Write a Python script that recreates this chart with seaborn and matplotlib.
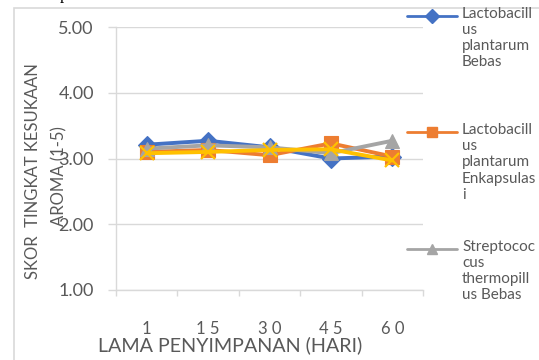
import matplotlib
matplotlib.use("Agg")
import matplotlib.pyplot as plt
from matplotlib.lines import Line2D
from matplotlib.patches import Rectangle
import seaborn as sns
import pandas as pd

# Storage time (days) and panel aroma scores (1-5 scale)
hari = ["1", "15", "30", "45", "60"]
hari_labels = ["1", "1 5", "3 0", "4 5", "6 0"]
lp_bebas = [3.21, 3.27, 3.17, 3.00, 3.03]
lp_enkapsulasi = [3.10, 3.13, 3.05, 3.23, 3.03]
st_bebas = [3.15, 3.20, 3.17, 3.08, 3.27]
st_enkapsulasi = [3.08, 3.10, 3.13, 3.14, 2.97]

series_names = [
    "Lactobacillus plantarum Bebas",
    "Lactobacillus plantarum Enkapsulasi",
    "Streptococcus thermopillus Bebas",
    "Streptococcus thermopillus Enkapsulasi",
]
legend_labels = [
    "Lactobacill\nus\nplantarum\nBebas",
    "Lactobacill\nus\nplantarum\nEnkapsulas\ni",
    "Streptococ\ncus\nthermopill\nus Bebas",
]
y_title_lines = ["SKOR  TINGKAT KESUKAAN", "AROMA (1-5)"]
colors = ["#4472C4", "#ED7D31", "#A5A5A5", "#FFC000"]
markers = ["D", "s", "^", "x"]
y_ticks = [1, 2, 3, 4, 5]

df = pd.DataFrame({
    "hari": hari * 4,
    "skor": lp_bebas + lp_enkapsulasi + st_bebas + st_enkapsulasi,
    "perlakuan": [n for n in series_names for _ in hari],
})

sns.set_theme(style="white")
plt.rcParams["font.family"] = ["Lato", "DejaVu Sans"]
text_color = "#595959"
grid_color = "#D9D9D9"

W, H = 539, 360
fig = plt.figure(figsize=(W / 100, H / 100), dpi=100)
ax = fig.add_axes([116 / W, 1 - 290 / H, (423 - 116) / W, (290 - 27) / H])

marker_sizes = {"D": 9, "s": 10, "^": 10, "x": 10}
for name, c, m in zip(series_names, colors, markers):
    sub = df[df["perlakuan"] == name]
    sns.lineplot(
        data=sub, x="hari", y="skor", ax=ax, color=c, lw=2.8, sort=False,
        marker=m, markersize=marker_sizes[m], markeredgecolor=c,
        markeredgewidth=1.6 if m == "x" else 0.8, legend=False,
    )

ax.set_xlim(-0.5, len(hari) - 0.5)
ax.set_ylim(1, 5)
ax.set_yticks(y_ticks)
ax.set_yticklabels([f"{v:.2f}" for v in y_ticks])
ax.yaxis.grid(True, color=grid_color, lw=1)
ax.set_axisbelow(True)

ax.set_xticks(range(len(hari)))
ax.set_xticklabels(hari_labels)
ax.set_xticks([i - 0.5 for i in range(len(hari) + 1)], minor=True)
ax.tick_params(axis="x", which="major", length=0, pad=22,
               labelsize=12, labelcolor=text_color)
ax.tick_params(axis="x", which="minor", length=4, width=1,
               color=grid_color, direction="out", bottom=True)
ax.tick_params(axis="y", length=6, width=1, color=grid_color, left=True,
               labelsize=13, labelcolor=text_color, pad=10)

for side in ["top", "right"]:
    ax.spines[side].set_visible(False)
for side in ["left", "bottom"]:
    ax.spines[side].set_color(grid_color)
    ax.spines[side].set_linewidth(1)

ax.set_xlabel("")
ax.set_ylabel("")
fig.text(230 / W, 1 - 345 / H, "LAMA PENYIMPANAN (HARI)", ha="center",
         va="center", fontsize=14.2, color=text_color)
# Two-line vertical axis title
for x_px, y_px, line in zip([33, 59], [171, 176], y_title_lines):
    fig.text(x_px / W, 1 - y_px / H, line, ha="center", va="center",
             rotation=90, fontsize=12, color=text_color)

# Legend entries stacked in equal slots on the right
for i, (lab, c, m) in enumerate(zip(legend_labels, colors, markers)):
    yc = 1 - (15.5 + i * 116.5) / H
    fig.add_artist(Line2D([407 / W, 457 / W], [yc, yc], transform=fig.transFigure,
                          color=c, lw=2, marker=None))
    fig.add_artist(Line2D([432 / W], [yc], transform=fig.transFigure, color=c,
                          marker=m, markersize=7, markeredgecolor=c, lw=0))
    fig.text(462 / W, yc + 9 / H, lab, ha="left", va="top", fontsize=11,
             color=text_color, linespacing=1.2)

# Chart frame and the line of body text just above it
fig.add_artist(Rectangle((14 / W, -0.2), 2, 1.2 - 8 / H, transform=fig.transFigure,
                         fill=False, ec=grid_color, lw=1.2))
fig.text(60 / W, 1 + 0.8 / H, "plantarum", ha="left", va="baseline",
         family="Liberation Serif", fontsize=12, color="black")
fig.text(56 / W, 1 + 0.8 / H, "Lactobacillus", ha="right", va="baseline",
         family="Liberation Serif", fontsize=12, color="black")

fig.savefig("out.png", dpi=100)
